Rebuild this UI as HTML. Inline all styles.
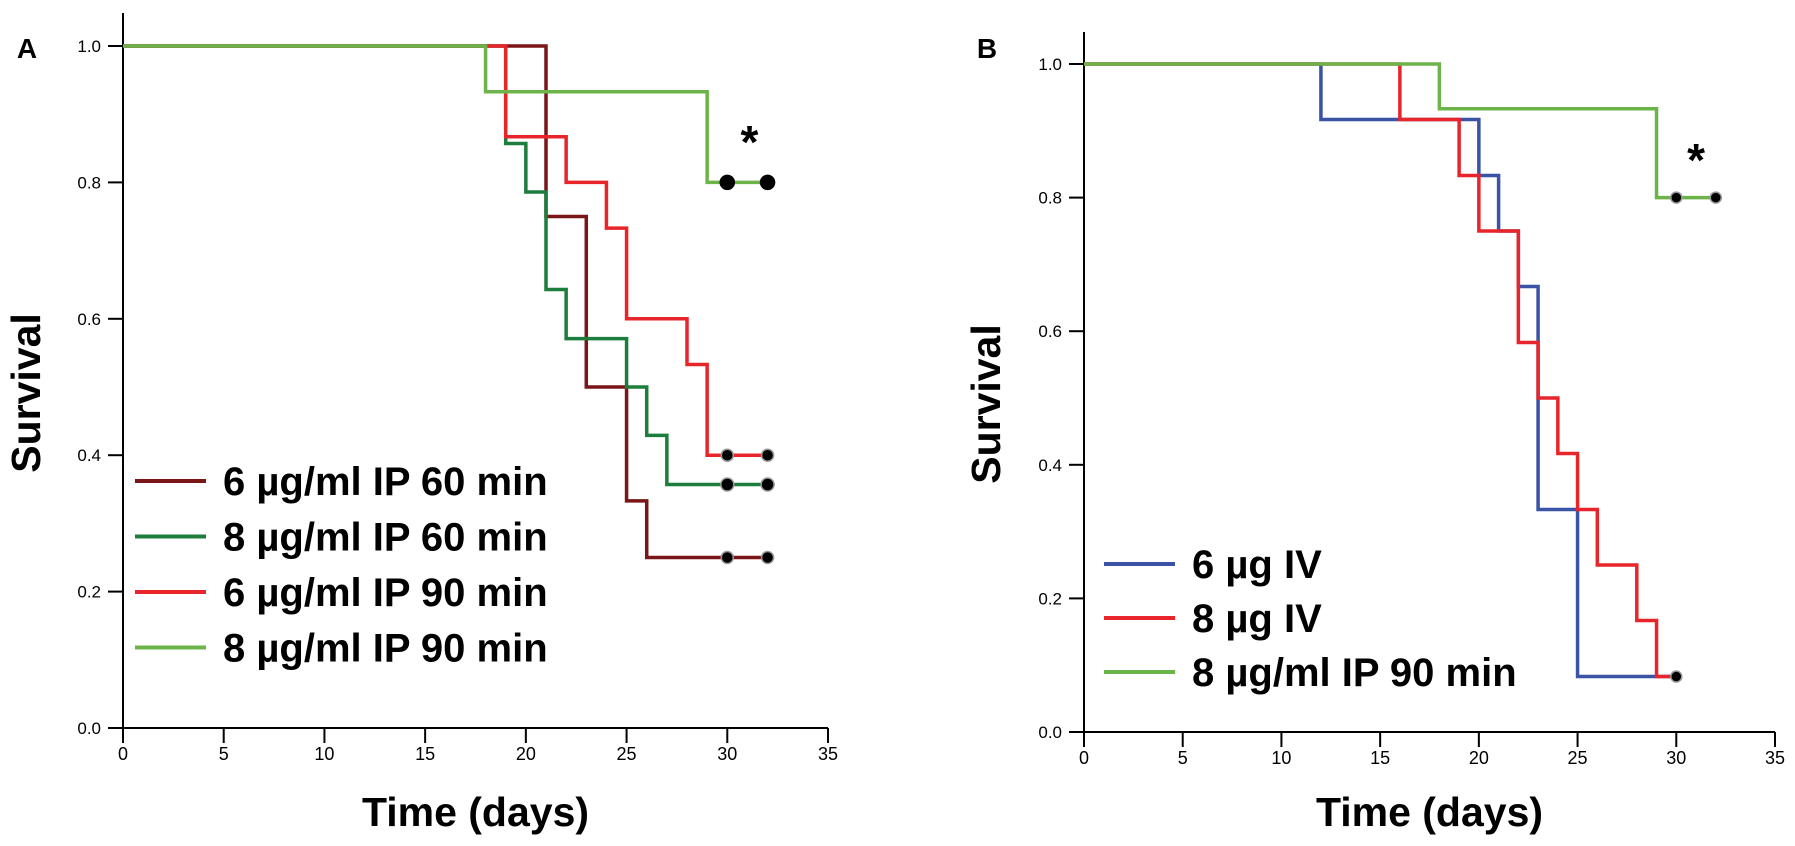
<!DOCTYPE html>
<html><head><meta charset="utf-8"><style>
html,body{margin:0;padding:0;background:#fff}
svg{display:block}
text{font-family:"Liberation Sans",Arial,sans-serif}
.tk{font-family:"Liberation Sans Narrow","Liberation Sans",sans-serif;font-size:18px}
</style></head><body>
<svg id="chart" width="1795" height="846" viewBox="0 0 1795 846" xmlns="http://www.w3.org/2000/svg"></svg>
<script>
// Panel A data
const xTicks = [0,5,10,15,20,25,30,35];
const yTicks = [0.0,0.2,0.4,0.6,0.8,1.0];
const aNames = ["6 µg/ml IP 60 min","8 µg/ml IP 60 min","6 µg/ml IP 90 min","8 µg/ml IP 90 min"];
const aColors = ["#7a1518","#1c7d3c","#e8252b","#6cb44a"];
const aTimes0 = [0,21,23,25,26,32];
const aSurv0  = [1.0,0.75,0.5,0.333,0.25,0.25];
const aTimes1 = [0,19,20,21,22,25,26,27,32];
const aSurv1  = [1.0,0.857,0.786,0.643,0.571,0.5,0.429,0.357,0.357];
const aTimes2 = [0,19,22,24,25,28,29,32];
const aSurv2  = [1.0,0.867,0.8,0.733,0.6,0.533,0.4,0.4];
const aTimes3 = [0,18,29,32];
const aSurv3  = [1.0,0.933,0.8,0.8];
const aCensor = [30,32];
// Panel B data
const bNames = ["6 µg IV","8 µg IV","8 µg/ml IP 90 min"];
const bColors = ["#3a53a4","#e8252b","#6cb44a"];
const bTimes0 = [0,12,20,21,22,23,25,30];
const bSurv0  = [1.0,0.917,0.833,0.75,0.667,0.333,0.083,0.083];
const bTimes1 = [0,16,19,20,22,23,24,25,26,28,29,30];
const bSurv1  = [1.0,0.917,0.833,0.75,0.583,0.5,0.417,0.333,0.25,0.167,0.083,0.083];
const bTimes2 = [0,18,29,32];
const bSurv2  = [1.0,0.933,0.8,0.8];
const bCensor0 = [30];
const bCensor2 = [30,32];

const NS="http://www.w3.org/2000/svg";
const svg=document.getElementById('chart');
function mk(tag,attrs,parent){const e=document.createElementNS(NS,tag);for(const k in attrs)e.setAttribute(k,attrs[k]);(parent||svg).appendChild(e);return e;}

function panel(P){
  const g=mk('g',{});
  
  
  const X=d=>P.x0+d*(P.x35-P.x0)/35;
  const Y=v=>P.y0+v*(P.y1-P.y0);
  // axes
  const ya=mk('line',{x1:X(0),x2:X(0),y1:P.yTop,y2:Y(0),stroke:'#000','stroke-width':2},g);
  
  const xa=mk('line',{x1:X(0),x2:X(35),y1:Y(0),y2:Y(0),stroke:'#000','stroke-width':2},g);
  
  xTicks.forEach(t=>{
    mk('line',{x1:X(t),x2:X(t),y1:Y(0),y2:Y(0)+15,stroke:'#000','stroke-width':2},g);
    const tx=mk('text',{x:X(t),y:Y(0)+32,'text-anchor':'middle',class:'tk'},g);
    
    tx.textContent=t;
  });
  yTicks.forEach(t=>{
    mk('line',{x1:X(0)-15,x2:X(0),y1:Y(t),y2:Y(t),stroke:'#000','stroke-width':2},g);
    const tx=mk('text',{x:X(0)-22,y:Y(t)+6,'text-anchor':'end','font-size':17},g);
    
    tx.textContent=t.toFixed(1);
  });
  const xt=mk('text',{x:(X(0)+X(35))/2,y:826,'text-anchor':'middle','font-size':41,'font-weight':'bold'},g);
  
  xt.textContent='Time (days)';
  const cy=(Y(0)+Y(1))/2+6;
  const yt=mk('text',{x:P.ytx,y:cy,'text-anchor':'middle','font-size':41,'font-weight':'bold',transform:`rotate(-90 ${P.ytx} ${cy})`},g);
  
  yt.textContent='Survival';
  const pl=mk('text',{x:P.lx,y:P.ly,'text-anchor':'middle','font-size':28,'font-weight':'bold'},g);
  
  pl.textContent=P.label;
  // series
  P.series.forEach((s,i)=>{
    let d=`M${X(s.t[0])},${Y(s.v[0])}`;
    for(let k=1;k<s.t.length;k++){d+=` H${X(s.t[k])} V${Y(s.v[k])}`;}
    const p=mk('path',{d:d,fill:'none',stroke:s.c,'stroke-width':3.5},g);
    
    
    s.cen.forEach(ct=>{
      const last=s.v[s.v.length-1];
      const c=mk('circle',{cx:X(ct),cy:Y(last),r:s.r,fill:'#000',stroke:s.big?'#000':'#999','stroke-width':1.5},g);
      
      
    });
  });
  const as=mk('text',{x:X(P.ast[0]),y:Y(P.ast[1])+22,'text-anchor':'middle','font-size':46,'font-weight':'bold'},g);
  
  as.textContent='*';
  // legend
  P.names.forEach((n,i)=>{
    const yy=P.legY+i*P.legDy;
    const ln=mk('line',{x1:P.legX,x2:P.legX+71,y1:yy,y2:yy,stroke:P.colors[i],'stroke-width':4},g);
    
    const tx=mk('text',{x:P.legX+88,y:yy+14,'font-size':40,'font-weight':'bold'},g);
    
    tx.textContent=n;
  });
}

panel({id:'a',label:'A',lx:27,ly:58,x0:123,x35:828,y0:728,y1:46,yTop:13,ytx:40,
  series:[
    {t:aTimes0,v:aSurv0,c:aColors[0],cen:aCensor,r:6},
    {t:aTimes1,v:aSurv1,c:aColors[1],cen:aCensor,r:6.5},
    {t:aTimes2,v:aSurv2,c:aColors[2],cen:aCensor,r:6},
    {t:aTimes3,v:aSurv3,c:aColors[3],cen:aCensor,r:7,big:true}],
  ast:[31.1,0.868],names:aNames,colors:aColors,legX:135,legY:481,legDy:55.5});

panel({id:'b',label:'B',lx:987,ly:58,x0:1084,x35:1775,y0:732,y1:64,yTop:32,ytx:1000,
  series:[
    {t:bTimes0,v:bSurv0,c:bColors[0],cen:[],r:5},
    {t:bTimes1,v:bSurv1,c:bColors[1],cen:bCensor0,r:5.5},
    {t:bTimes2,v:bSurv2,c:bColors[2],cen:bCensor2,r:5.5}],
  ast:[31,0.865],names:bNames,colors:bColors,legX:1104,legY:564,legDy:54});
</script>
</body></html>
